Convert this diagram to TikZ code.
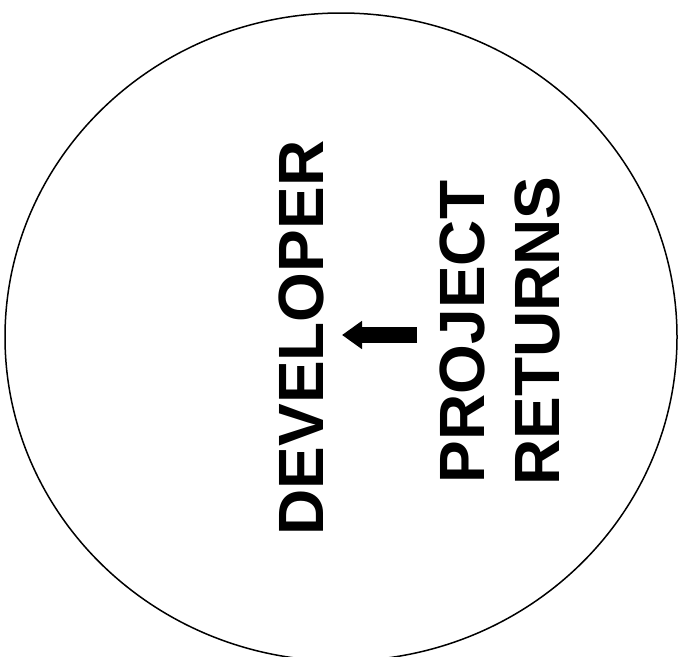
\documentclass[tikz,border=0pt]{standalone}
\usepackage{fontspec}
\setmainfont{Liberation Sans}
\usetikzlibrary{arrows.meta,shapes.geometric}
\begin{document}
\begin{tikzpicture}[x=1pt,y=-1pt,
  lbl/.style={rotate=90, inner sep=0pt, text height=46pt, text depth=0pt,
    font=\fontsize{64}{64}\selectfont\bfseries},
  bigarrow/.style={line width=16pt, -{Triangle[width=27pt,length=20pt]}}]
\useasboundingbox (0,0) rectangle (679,656);
\node[draw, line width=1.5pt, ellipse, minimum width=672pt, minimum height=648pt, inner sep=0pt] (circ) at (341,337) {};
\node[lbl] (dev) at (300,338) {DEVELOPER};
\node[lbl] (proj) at (461,332) {PROJECT};
\node[lbl] (ret) at (536,331) {RETURNS};
\coordinate (a1) at (417,335);
\coordinate (a2) at (342,335);
\draw[bigarrow] (a1) -- (a2);
\end{tikzpicture}
\end{document}
